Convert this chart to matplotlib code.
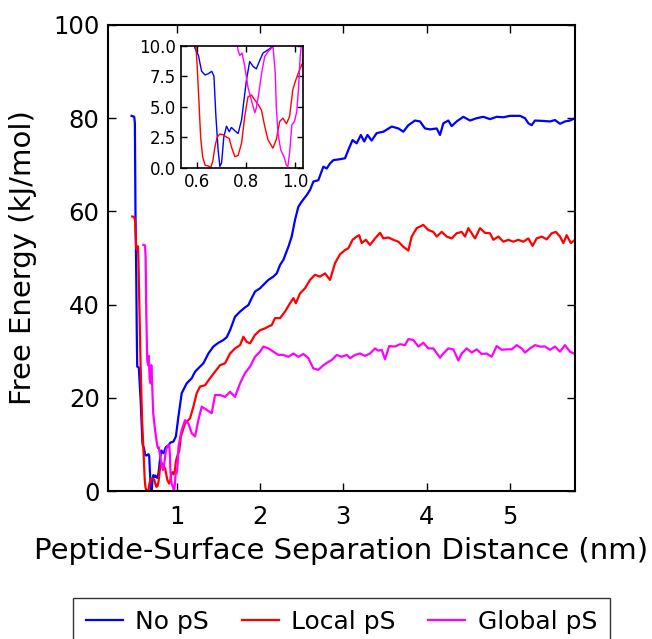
import numpy as np
from matplotlib import pyplot as plt

plt.rcParams['font.family'] = ['DejaVu Sans']

# No pS
x_nops = [0.458, 0.49, 0.498, 0.505, 0.515, 0.52, 0.526, 0.545, 0.567, 0.588, 0.593, 0.607, 0.620, 0.634,
          0.647, 0.661, 0.670, 0.678, 0.687, 0.694, 0.701, 0.710, 0.721, 0.732, 0.741, 0.751, 0.768,
          0.782, 0.802, 0.815, 0.829, 0.842, 0.856, 0.869, 0.889, 0.906, 0.925, 0.96, 0.99, 1.02, 1.06,
          1.12, 1.18, 1.22, 1.28, 1.32, 1.38, 1.44, 1.50, 1.56, 1.60, 1.64, 1.70, 1.76, 1.82, 1.86,
          1.90, 1.94, 2.00, 2.06, 2.10, 2.16, 2.20, 2.24, 2.28, 2.34, 2.38, 2.42, 2.46, 2.50, 2.56,
          2.60, 2.64, 2.70, 2.76, 2.80, 2.84, 2.88, 2.96, 3.02, 3.06, 3.11, 3.16, 3.21, 3.25, 3.29,
          3.34, 3.40, 3.48, 3.58, 3.66, 3.72, 3.78, 3.86, 3.92, 3.98, 4.04, 4.12, 4.16, 4.20, 4.26,
          4.30, 4.36, 4.44, 4.52, 4.60, 4.68, 4.76, 4.84, 4.92, 5.00, 5.12, 5.18, 5.22, 5.26, 5.30,
          5.40, 5.48, 5.54, 5.60, 5.66, 5.72, 5.78]
y_nops = [80.5, 80.3, 78.9, 60.0, 45.0, 35.0, 26.7, 26.5, 19.5, 10.5, 9.8, 9.2, 7.9, 7.6,
          7.7, 7.9, 7.5, 4.2, 1.45, 0.1, 0.4, 2.5, 3.4, 2.95, 3.3, 3.1, 2.8,
          3.9, 7.2, 8.7, 8.3, 8.1, 8.8, 9.4, 9.65, 9.9, 10.4, 10.6, 11.7, 15.9, 21.0,
          23.1, 24.2, 25.6, 26.7, 27.4, 29.5, 31.0, 31.8, 32.4, 33.0, 34.5, 37.4, 38.5, 39.4, 39.9,
          41.4, 42.8, 43.5, 44.6, 45.3, 46.0, 46.7, 48.5, 49.6, 52.4, 54.6, 58.2, 61.0, 62.1, 63.5,
          64.6, 66.4, 66.7, 69.6, 69.2, 70.3, 71.0, 71.2, 71.4, 73.2, 75.3, 74.6, 76.4, 75.0, 76.4,
          75.2, 76.8, 77.1, 78.2, 77.8, 77.1, 78.5, 79.5, 79.3, 77.8, 77.6, 77.8, 76.4, 78.9, 79.5,
          78.3, 79.3, 80.3, 79.5, 80.0, 80.3, 79.8, 80.3, 80.2, 80.5, 80.5, 80.0, 78.9, 78.5, 79.5,
          79.4, 79.3, 79.6, 78.8, 79.3, 79.5, 80.0]

# Local pS
x_local = [0.466, 0.49, 0.50, 0.515, 0.526, 0.535, 0.54, 0.55, 0.567, 0.585, 0.597, 0.602, 0.609, 0.616,
           0.624, 0.634, 0.647, 0.657, 0.665, 0.674, 0.683, 0.694, 0.708, 0.721, 0.732, 0.741, 0.755,
           0.768, 0.782, 0.795, 0.808, 0.822, 0.836, 0.852, 0.863, 0.876, 0.889, 0.909, 0.923, 0.937,
           0.950, 0.964, 0.977, 0.990, 1.004, 1.017, 1.030, 1.05, 1.10, 1.16, 1.20, 1.24, 1.28, 1.34,
           1.40, 1.46, 1.52, 1.58, 1.64, 1.70, 1.76, 1.80, 1.84, 1.88, 1.94, 2.00, 2.06, 2.10, 2.14,
           2.18, 2.24, 2.30, 2.36, 2.40, 2.43, 2.48, 2.54, 2.60, 2.66, 2.72, 2.78, 2.84, 2.90, 2.96,
           3.02, 3.06, 3.11, 3.16, 3.19, 3.22, 3.27, 3.32, 3.38, 3.44, 3.48, 3.54, 3.60, 3.66, 3.72,
           3.78, 3.82, 3.88, 3.96, 4.02, 4.08, 4.12, 4.18, 4.24, 4.30, 4.36, 4.42, 4.46, 4.50, 4.54,
           4.58, 4.64, 4.70, 4.76, 4.80, 4.86, 4.92, 4.98, 5.04, 5.10, 5.16, 5.22, 5.27, 5.32, 5.38,
           5.44, 5.50, 5.55, 5.60, 5.64, 5.68, 5.73, 5.78]
y_local = [58.9, 58.8, 58.0, 52.0, 51.7, 52.5, 50.0, 41.0, 26.7, 15.0, 9.9, 8.3, 5.5, 2.5,
           0.9, 0.2, 0.14, 0.03, 0.5, 1.7, 2.5, 2.76, 2.7, 2.5, 2.4, 1.7, 0.9,
           1.0, 2.0, 4.2, 5.8, 5.96, 5.55, 5.1, 4.7, 3.4, 2.3, 1.6, 2.3, 3.8,
           4.05, 3.6, 4.2, 6.4, 7.3, 8.0, 8.6, 11.7, 14.5, 15.6, 18.1, 21.0, 22.4, 22.7,
           24.2, 25.6, 27.0, 27.4, 29.5, 30.6, 31.3, 33.1, 32.0, 31.7, 33.5, 34.5, 34.9, 35.3, 35.6,
           37.1, 37.1, 38.5, 40.3, 41.4, 40.3, 42.4, 43.5, 45.3, 46.4, 46.0, 46.7, 45.3, 48.9, 50.8,
           51.7, 52.1, 53.9, 54.6, 54.9, 53.2, 53.9, 52.8, 54.2, 55.4, 54.2, 54.4, 53.9, 53.5, 52.4,
           51.6, 54.6, 56.4, 57.1, 56.0, 55.6, 54.6, 55.6, 54.6, 54.2, 55.3, 55.6, 54.6, 56.4, 55.3,
           54.2, 56.4, 55.4, 55.3, 53.9, 54.6, 53.5, 53.9, 53.5, 53.9, 53.5, 54.2, 52.6, 54.2, 54.6,
           54.0, 55.3, 55.6, 54.6, 53.2, 54.9, 53.2, 53.9]

# Global pS
x_global = [0.600, 0.620, 0.627, 0.635, 0.646, 0.656, 0.665, 0.675, 0.687, 0.695, 0.703, 0.718, 0.738,
            0.760, 0.768, 0.775, 0.784, 0.795, 0.808, 0.829, 0.836, 0.842, 0.852, 0.863, 0.876, 0.889,
            0.903, 0.910, 0.919, 0.923, 0.930, 0.941, 0.954, 0.964, 0.970, 0.977, 0.986, 0.997, 1.006,
            1.013, 1.020, 1.024, 1.06, 1.10, 1.14, 1.18, 1.22, 1.26, 1.30, 1.36, 1.42, 1.46, 1.52,
            1.58, 1.64, 1.70, 1.76, 1.82, 1.88, 1.94, 2.00, 2.04, 2.10, 2.16, 2.22, 2.28, 2.34, 2.40,
            2.46, 2.52, 2.58, 2.64, 2.70, 2.76, 2.82, 2.86, 2.92, 2.98, 3.04, 3.08, 3.14, 3.20, 3.26,
            3.32, 3.38, 3.42, 3.46, 3.50, 3.55, 3.62, 3.68, 3.74, 3.78, 3.84, 3.90, 3.96, 4.02, 4.08,
            4.16, 4.20, 4.26, 4.32, 4.38, 4.42, 4.48, 4.54, 4.60, 4.66, 4.72, 4.78, 4.84, 4.90, 4.96,
            5.02, 5.08, 5.14, 5.18, 5.24, 5.30, 5.36, 5.42, 5.48, 5.54, 5.60, 5.66, 5.72, 5.78]
y_global = [52.8, 52.7, 50.0, 38.0, 28.1, 27.0, 29.0, 24.0, 23.1, 27.0, 24.0, 16.7, 13.4,
            10.5, 9.6, 9.2, 9.4, 8.3, 6.6, 5.0, 4.5, 4.9, 6.1, 7.7, 9.1, 9.5,
            9.8, 9.9, 7.7, 5.0, 2.8, 1.45, 0.9, 0.2, 0.1, 1.2, 3.5, 3.8, 4.6,
            6.4, 9.1, 9.9, 13.1, 15.2, 14.5, 12.4, 11.7, 15.2, 18.1, 17.4, 16.7, 20.6, 20.6,
            20.2, 21.3, 20.2, 23.1, 25.3, 26.7, 28.8, 29.9, 31.0, 30.6, 29.9, 29.2, 29.2, 28.8, 29.5,
            28.8, 29.4, 28.5, 26.3, 26.0, 27.0, 27.7, 28.1, 29.2, 28.8, 29.2, 28.5, 29.2, 29.5, 29.0,
            29.5, 30.6, 30.1, 30.3, 28.3, 31.1, 31.0, 31.5, 31.3, 32.6, 32.4, 31.0, 31.8, 30.6, 30.6,
            28.6, 29.5, 30.6, 30.4, 28.0, 29.5, 30.6, 29.7, 30.4, 29.4, 29.5, 28.8, 31.1, 30.3, 30.4,
            30.4, 31.3, 30.6, 29.7, 30.6, 31.3, 31.0, 31.0, 30.3, 31.0, 29.9, 31.3, 29.9, 29.4]

labels = ['No pS', 'Local pS', 'Global pS']
colors = ['blue', 'red', 'magenta']
series = [(x_nops, y_nops), (x_local, y_local), (x_global, y_global)]

fig = plt.figure(figsize=(6.52, 6.39), dpi=100)
ax = fig.add_axes([0.1656, 0.2316, 0.7163, 0.7293])

for (xs, ys), lab, col in zip(series, labels, colors):
    ax.plot(xs, ys, color=col, lw=1.6, label=lab)

ax.set_xlim(0.175, 5.78)
ax.set_ylim(0, 100)
ax.set_xticks([1, 2, 3, 4, 5])
ax.set_yticks([0, 20, 40, 60, 80, 100])
ax.tick_params(direction='in', length=6, width=1, top=True, right=True, labelsize=17.5)
ax.tick_params(axis='x', pad=10)
ax.tick_params(axis='y', pad=6)
for sp in ax.spines.values():
    sp.set_linewidth(1.5)
ax.set_xlabel('Peptide-Surface Separation Distance (nm)', fontsize=21, labelpad=6)
ax.set_ylabel('Free Energy (kJ/mol)', fontsize=21, labelpad=12)

leg = ax.legend(loc='upper center', bbox_to_anchor=(0.5, -0.229), ncol=3, fontsize=18,
                frameon=True, fancybox=False, edgecolor='black', handlelength=1.48,
                handletextpad=0.5, columnspacing=1.3, borderpad=0.5, borderaxespad=0)
leg.get_frame().set_linewidth(1.0)

# inset zoom of the minimum
axin = fig.add_axes([0.2771, 0.7376, 0.1871, 0.1909])
for (xs, ys), col in zip(series, colors):
    axin.plot(xs, ys, color=col, lw=1.0)
axin.set_xlim(0.535, 1.03)
axin.set_ylim(0, 10)
axin.set_xticks([0.6, 0.8, 1.0])
axin.set_yticks([0, 2.5, 5.0, 7.5, 10.0])
axin.set_yticklabels(['0.0', '2.5', '5.0', '7.5', '10.0'])
axin.tick_params(direction='in', length=4, width=1, top=True, right=True, labelsize=12)
for sp in axin.spines.values():
    sp.set_linewidth(1.2)

fig.savefig('out.png', dpi=100)
